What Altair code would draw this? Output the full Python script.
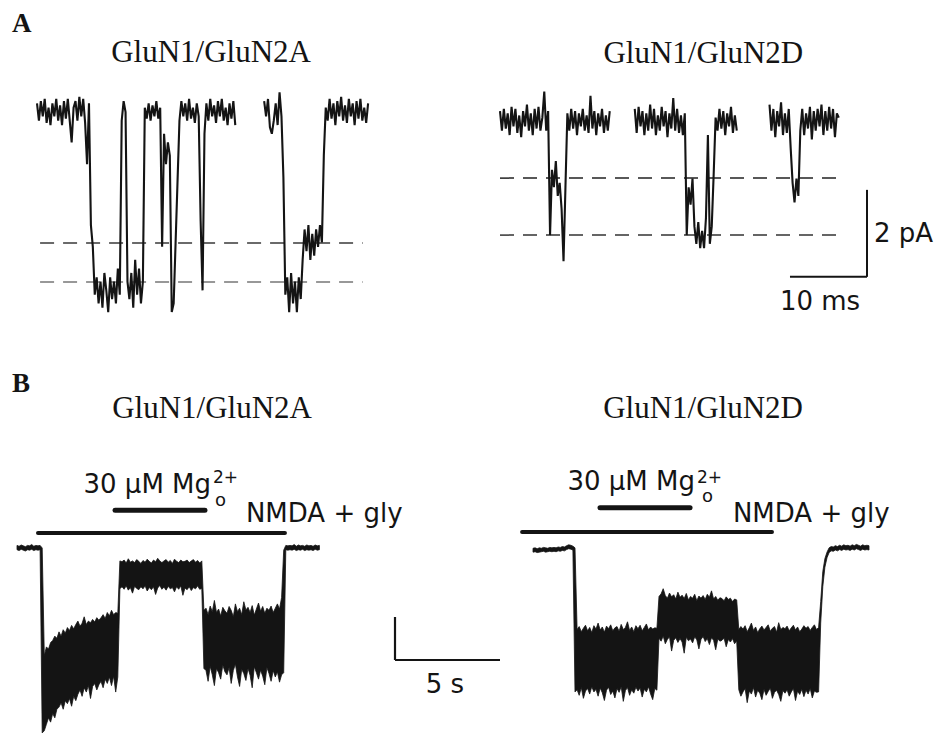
import altair as alt
import pandas as pd

# ------------------------------------------------------------------
# Data
# ------------------------------------------------------------------
# Panel A: single-channel currents (pA), one value every 0.25 ms
A_STEP_MS = 0.25
GLUN2A_SINGLE_PA = [
    0.20, -0.20, 0.25, -0.10,    # 0 ms
    0.30, -0.25, 0.10, -0.30,    # 1
    0.20, -0.10, 0.30, -0.20,    # 2
    0.15, -0.30, 0.25, -0.15,    # 3
    0.30, -0.20, -0.70, 0.10,    # 4
    0.25, -0.20, 0.35, -0.10,    # 5
    0.30, -0.25, -1.20, 0.20,    # 6
    -2.60, -3.10, -4.20, -3.80,  # 7
    -4.40, -3.90, -4.50, -3.70,  # 8
    -4.10, -4.60, -3.80, -4.30,  # 9
    -3.90, -4.40, -3.60, -4.20,  # 10
    -0.20, 0.25, 0.00, -3.90,    # 11
    -4.30, -3.70, -4.50, -3.40,  # 12
    -4.20, -3.60, -4.40, -3.90,  # 13
    0.10, -0.15, 0.20, -0.20,    # 14
    0.15, -0.10, 0.25, -0.15,    # 15
    0.10, -3.10, -0.50, -1.20,   # 16
    -0.70, -1.00, -4.60, -4.40,  # 17
    -3.00, -1.60, -0.20, 0.25,   # 18
    -0.10, 0.20, -0.20, 0.30,    # 19
    -0.15, 0.10, -0.25, 0.20,    # 20
    -0.10, -2.50, -4.10, -0.50,  # 21
    0.20, -0.20, 0.30, -0.10,    # 22
    0.15, -0.25, 0.25, -0.10,    # 23
    0.30, -0.20, 0.10, -0.30,    # 24
    0.20, -0.15, 0.25, -0.30,    # 25
    None, None, None, None,      # 26
    None, None, None, None,      # 27
    None, None, None, None,      # 28
    None, None, 0.25, -0.10,     # 29
    0.30, -0.35, -0.50, -0.20,   # 30
    0.20, -0.30, 0.45, -0.10,    # 31
    -1.50, -4.20, -3.80, -4.60,  # 32
    -3.70, -4.40, -3.90, -4.60,  # 33
    -3.80, -4.30, -3.40, -2.70,  # 34
    -3.20, -2.60, -3.40, -2.80,  # 35
    -3.30, -2.70, -3.10, -2.60,  # 36
    -3.00, -1.00, 0.10, -0.20,   # 37
    0.30, -0.15, 0.20, -0.30,    # 38
    0.25, -0.10, 0.35, -0.20,    # 39
    0.15, -0.25, 0.30, -0.10,    # 40
    0.20, -0.30, 0.25, -0.15,    # 41
    0.30, -0.20, 0.10, -0.25,    # 42
    0.20,                        # 43
]
GLUN2D_SINGLE_PA = [
    0.25, -0.20, 0.30, -0.15,    # 0 ms
    0.20, -0.30, 0.35, -0.10,    # 1
    0.30, -0.25, 0.15, -0.35,    # 2
    0.25, -0.10, 0.40, -0.20,    # 3
    0.20, -0.30, 0.30, -0.15,    # 4
    0.35, -0.20, 0.10, 0.70,     # 5
    -0.20, 0.25, -2.60, -1.10,   # 6
    -1.50, -0.90, -1.70, -1.40,  # 7
    -2.00, -3.20, -1.50, 0.20,   # 8
    -0.20, 0.30, -0.15, 0.25,    # 9
    -0.30, 0.20, -0.10, 0.30,    # 10
    -0.20, 0.15, -0.25, 0.60,    # 11
    -0.15, 0.25, -0.30, 0.20,    # 12
    -0.10, 0.30, -0.25, 0.15,    # 13
    -0.20, 0.25, None, None,     # 14
    None, None, None, None,      # 15
    None, None, None, None,      # 16
    None, None, 0.30, -0.25,     # 17
    0.35, -0.10, 0.25, -0.30,    # 18
    0.20, -0.20, 0.40, -0.15,    # 19
    0.30, -0.30, 0.15, -0.20,    # 20
    0.35, -0.10, 0.25, -0.35,    # 21
    0.20, -0.15, 0.55, -0.20,    # 22
    0.30, -0.25, 0.15, -0.30,    # 23
    0.20, -2.60, -1.50, -1.90,   # 24
    -1.30, -2.40, -2.80, -2.30,  # 25
    -2.90, -2.50, -2.90, -2.20,  # 26
    -0.30, -2.80, -2.40, -1.20,  # 27
    0.10, -0.20, 0.30, -0.15,    # 28
    0.25, -0.30, 0.20, -0.10,    # 29
    0.35, -0.25, 0.15, -0.20,    # 30
    None, None, None, None,      # 31
    None, None, None, None,      # 32
    None, None, None, None,      # 33
    None, None, None, None,      # 34
    0.40, -0.20, 0.30, -0.35,    # 35
    0.25, -0.10, 0.45, -0.30,    # 36
    0.20, -0.25, 0.30, -0.60,    # 37
    -1.40, -1.85, -1.30, -1.70,  # 38
    -0.20, 0.30, -0.30, 0.20,    # 39
    -0.15, 0.35, -0.40, 0.25,    # 40
    -0.20, 0.30, -0.10, 0.40,    # 41
    -0.30, 0.25, -0.20, 0.35,    # 42
    -0.15, 0.30, -0.35, 0.20,    # 43
    0.10,                        # 44
]
GLUN2A_LEVELS_PA = [-3.01, -3.91]
GLUN2A_LEVEL_SPAN_MS = [0.4, 42.3]
GLUN2D_LEVELS_PA = [-1.29, -2.60]
GLUN2D_LEVEL_SPAN_MS = [0.0, 43.9]
A_BAR_MS = [37.66, 47.66]        # 10 ms
A_BAR_PA = [-3.56, -1.56]        # 2 pA

# Panel B: whole-cell currents, upper / lower envelope every 0.1 s
B_STEP_S = 0.1
GLUN2A_WC_HI = [
    0.06, 0.04, 0.07, 0.05, 0.03, 0.06, 0.05, 0.08, 0.04, 0.06,
    0.05, 0.06, 0.00, -2.50, -2.30, -2.35, -2.20, -2.15, -2.05, -2.10,
    -1.95, -2.05, -1.90, -1.98, -1.85, -1.92, -1.80, -1.88, -1.78, -1.70,
    -1.82, -1.75, -1.60, -1.78, -1.70, -1.74, -1.66, -1.72, -1.62, -1.68,
    -1.62, -1.55, -1.64, -1.50, -1.58, -1.45, -1.55, -1.50, -1.52, -0.30,
    -0.32, -0.28, -0.35, -0.25, -0.33, -0.30, -0.34, -0.27, -0.31, -0.36,
    -0.29, -0.33, -0.26, -0.31, -0.35, -0.28, -0.32, -0.24, -0.30, -0.34,
    -0.30, -0.27, -0.33, -0.29, -0.36, -0.26, -0.31, -0.34, -0.28, -0.32,
    -0.31, -0.28, -0.34, -0.30, -0.27, -0.33, -0.29, -0.35, -0.30, -1.45,
    -1.40, -1.55, -1.35, -1.48, -1.22, -1.50, -1.42, -1.58, -1.38, -1.46,
    -1.52, -1.36, -1.45, -1.60, -1.30, -1.48, -1.40, -1.55, -1.25, -1.44,
    -1.38, -1.50, -1.34, -1.56, -1.42, -1.28, -1.47, -1.36, -1.52, -1.40,
    -1.45, -1.35, -1.50, -1.40, -1.30, -1.42, -1.15, -0.05, 0.06, 0.05,
    0.06, 0.05, 0.08, 0.04, 0.07, 0.05, 0.06, 0.04, 0.07, 0.05,
    0.06, 0.04, 0.07, 0.05, 0.06,
]
GLUN2A_WC_LO = [
    -0.04, -0.06, -0.03, -0.05, -0.07, -0.04, -0.05, -0.03, -0.06, -0.04,
    -0.05, -0.04, -4.30, -4.25, -4.10, -3.95, -4.05, -3.85, -3.95, -3.75,
    -3.70, -3.60, -3.75, -3.55, -3.62, -3.50, -3.68, -3.45, -3.55, -3.40,
    -3.30, -3.45, -3.25, -3.35, -3.20, -3.50, -3.22, -3.15, -3.30, -3.18,
    -3.10, -3.25, -3.05, -3.15, -3.00, -3.20, -2.98, -3.35, -3.00, -0.95,
    -0.90, -0.96, -0.88, -0.98, -0.92, -1.05, -0.89, -0.94, -0.97, -0.90,
    -0.95, -0.88, -1.00, -0.92, -0.97, -0.90, -1.08, -0.93, -0.87, -0.96,
    -0.91, -0.98, -0.89, -0.95, -0.92, -1.02, -0.90, -0.96, -0.88, -1.10,
    -0.93, -0.97, -0.90, -0.99, -0.92, -0.95, -0.88, -0.96, -0.94, -2.80,
    -2.85, -3.10, -2.75, -2.95, -3.20, -2.80, -2.90, -3.05, -2.72, -2.88,
    -2.95, -2.78, -3.15, -2.85, -2.70, -3.00, -3.22, -2.82, -2.92, -3.08,
    -2.80, -2.96, -3.25, -2.76, -2.90, -3.05, -2.84, -2.98, -3.18, -2.78,
    -2.92, -3.10, -2.85, -3.00, -2.88, -3.12, -2.95, -2.90, -0.04, -0.05,
    -0.04, -0.05, -0.03, -0.06, -0.04, -0.05, -0.03, -0.06, -0.04, -0.05,
    -0.04, -0.06, -0.03, -0.05, -0.04,
]
GLUN2D_WC_HI = [
    0.04, 0.05, 0.03, 0.05, 0.04, 0.06, 0.05, 0.04, 0.06, 0.05,
    0.06, 0.05, 0.07, 0.06, 0.08, 0.07, 0.10, 0.12, 0.11, 0.09,
    0.05, -1.85, -1.78, -1.90, -1.82, -1.75, -1.88, -1.80, -1.92, -1.76,
    -1.84, -1.70, -1.86, -1.79, -1.91, -1.77, -1.83, -1.74, -1.88, -1.81,
    -1.78, -1.89, -1.73, -1.85, -1.80, -1.67, -1.87, -1.79, -1.90, -1.76,
    -1.83, -1.75, -1.88, -1.80, -1.72, -1.86, -1.79, -1.84, -1.81, -1.82,
    -1.08, -1.02, -0.90, -1.06, -1.12, -1.00, -1.09, -1.04, -1.14, -0.98,
    -1.10, -1.05, -1.13, -1.01, -1.16, -1.08, -1.12, -1.03, -1.18, -1.07,
    -1.12, -1.06, -1.15, -1.03, -1.10, -0.95, -1.14, -1.08, -1.17, -1.11,
    -1.13, -1.18, -1.09, -1.15, -1.12, -1.20, -1.14, -1.16, -1.85, -1.78,
    -1.84, -1.76, -1.90, -1.81, -1.70, -1.87, -1.79, -1.92, -1.83, -1.77,
    -1.86, -1.80, -1.74, -1.89, -1.82, -1.78, -1.91, -1.69, -1.85, -1.80,
    -1.83, -1.77, -1.88, -1.81, -1.75, -1.86, -1.79, -1.90, -1.84, -1.76,
    -1.82, -1.78, -1.87, -1.80, -1.74, -1.85, -1.80, -1.20, -0.50, -0.20,
    -0.05, 0.05, 0.08, 0.07, 0.10, 0.08, 0.11, 0.09, 0.12, 0.10,
    0.11, 0.09, 0.12, 0.10, 0.13, 0.11, 0.09, 0.12, 0.10, 0.11,
    0.10,
]
GLUN2D_WC_LO = [
    -0.05, -0.04, -0.06, -0.05, -0.04, -0.03, -0.05, -0.04, -0.03, -0.04,
    -0.03, -0.04, -0.02, -0.03, -0.01, -0.02, 0.01, 0.03, 0.02, 0.00,
    -3.30, -3.25, -3.38, -3.20, -3.45, -3.28, -3.22, -3.35, -3.18, -3.30,
    -3.24, -3.40, -3.21, -3.32, -3.50, -3.26, -3.19, -3.36, -3.28, -3.44,
    -3.22, -3.31, -3.18, -3.52, -3.27, -3.20, -3.38, -3.25, -3.33, -3.19,
    -3.28, -3.21, -3.42, -3.24, -3.30, -3.18, -3.35, -3.48, -3.22, -3.26,
    -2.05, -2.12, -2.00, -2.18, -2.08, -2.02, -2.35, -2.10, -2.04, -2.15,
    -2.06, -2.14, -2.40, -2.03, -2.11, -2.07, -2.16, -2.02, -2.09, -2.30,
    -2.08, -2.01, -2.13, -2.06, -2.20, -2.04, -2.10, -2.32, -2.07, -2.12,
    -2.10, -2.05, -2.25, -2.08, -2.14, -2.06, -2.18, -2.11, -3.25, -3.40,
    -3.30, -3.22, -3.55, -3.28, -3.35, -3.20, -3.42, -3.26, -3.33, -3.48,
    -3.24, -3.38, -3.29, -3.21, -3.45, -3.31, -3.26, -3.36, -3.52, -3.27,
    -3.33, -3.25, -3.40, -3.30, -3.22, -3.50, -3.28, -3.36, -3.24, -3.41,
    -3.26, -3.35, -3.22, -3.44, -3.28, -3.31, -3.30, -1.70, -0.85, -0.40,
    -0.18, -0.06, -0.02, -0.03, 0.00, -0.02, 0.01, -0.01, 0.02, 0.00,
    0.01, -0.01, 0.02, 0.00, 0.03, 0.01, -0.01, 0.02, 0.00, 0.01,
    0.00,
]
# application bars (s) and scale bar (5 s, 1 unit)
GLUN2A_NMDA_S = [1.0, 12.76]
GLUN2A_MG_S = [4.67, 8.95]
GLUN2D_NMDA_S = [-0.52, 11.38]
GLUN2D_MG_S = [3.19, 7.48]
B_BAR_S = [18.0, 23.0]
B_BAR_UNITS = [-2.605, -1.605]

# ------------------------------------------------------------------
# Layout (pixels) -> scale domains
# ------------------------------------------------------------------
W_L, W_R, H_A, H_B = 464, 465, 352, 374
A_PX_MS, A_PX_PA = 7.7, 43.5
B_PX_S, B_PX_U = 21.0, 43.0


def domains(width, height, x0_px, y0_px, px_x, px_y):
    xmin = -x0_px / px_x
    ymax = y0_px / px_y
    return [xmin, xmin + width / px_x], [ymax - height / px_y, ymax]


INK = "#141414"
SERIF = "Liberation Serif"
SANS = "DejaVu Sans"
SANS_SIZE = 26


def enc(xd, yd):
    X = lambda f: alt.X(f"{f}:Q", scale=alt.Scale(domain=xd, nice=False, zero=False), axis=None)
    Y = lambda f: alt.Y(f"{f}:Q", scale=alt.Scale(domain=yd, nice=False, zero=False), axis=None)
    return X, Y


def line_trace(vals, step):
    rows, seg, gap = [], 0, False
    for i, v in enumerate(vals):
        if v is None:
            gap = True
            continue
        if gap:
            seg += 1
            gap = False
        rows.append({"t": i * step, "v": v, "seg": seg})
    return pd.DataFrame(rows)


def text(X, Y, label, t, v, **kw):
    df = pd.DataFrame({"t": [t], "v": [v], "label": [label]})
    return alt.Chart(df).mark_text(color=INK, **kw).encode(x=X("t"), y=Y("v"), text="label:N")


def hrule(X, Y, t1, t2, v, **kw):
    df = pd.DataFrame({"t": [t1], "t2": [t2], "v": [v]})
    return alt.Chart(df).mark_rule(**kw).encode(x=X("t"), x2="t2:Q", y=Y("v"))


def vrule(X, Y, t, v1, v2, **kw):
    df = pd.DataFrame({"t": [t], "v": [v1], "v2": [v2]})
    return alt.Chart(df).mark_rule(**kw).encode(x=X("t"), y=Y("v"), y2="v2:Q")


def panel_a(vals, levels, span, level_colors, x0, y0, width, title, title_t, title_v, extra):
    xd, yd = domains(width, H_A, x0, y0, A_PX_MS, A_PX_PA)
    X, Y = enc(xd, yd)
    layers = []
    for lv, col in zip(levels, level_colors):
        layers.append(hrule(X, Y, span[0], span[1], lv, color=col, strokeWidth=1.5, strokeDash=[14, 9]))
    df = line_trace(vals, A_STEP_MS)
    layers.append(alt.Chart(df).mark_line(color=INK, strokeWidth=2.1, strokeJoin="miter",
                                          strokeMiterLimit=3).encode(
        x=X("t"), y=Y("v"), detail="seg:N"))
    layers.append(text(X, Y, title, title_t, title_v, font=SERIF, fontSize=31,
                       align="center", baseline="alphabetic"))
    layers += extra(X, Y)
    return alt.layer(*layers).properties(width=width, height=H_A)


def a_left_extra(X, Y):
    return [text(X, Y, "A", -3.25, 1.84, font=SERIF, fontSize=27, fontWeight="bold",
                 align="left", baseline="alphabetic")]


def a_right_extra(X, Y):
    return [
        vrule(X, Y, A_BAR_MS[1], A_BAR_PA[0], A_BAR_PA[1], color=INK, strokeWidth=2),
        hrule(X, Y, A_BAR_MS[0], A_BAR_MS[1], A_BAR_PA[0], color=INK, strokeWidth=2),
        text(X, Y, "2 pA", A_BAR_MS[1] + 0.9, (A_BAR_PA[0] + A_BAR_PA[1]) / 2 - 0.02,
             font=SANS, fontSize=SANS_SIZE, align="left", baseline="middle"),
        text(X, Y, "10 ms", (A_BAR_MS[0] + A_BAR_MS[1]) / 2 - 1.1, A_BAR_PA[0] - 0.58,
             font=SANS, fontSize=SANS_SIZE, align="center", baseline="middle"),
    ]


def panel_b(hi, lo, nmda, mg, x0, y0, width, title, title_t, lab, extra):
    xd, yd = domains(width, H_B, x0, y0, B_PX_S, B_PX_U)
    X, Y = enc(xd, yd)
    df = pd.DataFrame({"t": [i * B_STEP_S for i in range(len(hi))], "hi": hi, "lo": lo})
    layers = [
        alt.Chart(df).mark_area(fill=INK, stroke=INK, strokeWidth=0.8).encode(
            x=X("t"), y=Y("hi"), y2="lo:Q"),
        hrule(X, Y, nmda[0], nmda[1], lab["nmda_v"], color=INK, strokeWidth=4, strokeCap="round"),
        hrule(X, Y, mg[0], mg[1], lab["mg_v"], color=INK, strokeWidth=5, strokeCap="round"),
        text(X, Y, title, title_t, lab["title_v"], font=SERIF, fontSize=31,
             align="center", baseline="alphabetic"),
        text(X, Y, "30 \u00b5M Mg", lab["mg_t"], lab["mg_tv"], font=SANS, fontSize=SANS_SIZE,
             align="right", baseline="alphabetic"),
        text(X, Y, "2+", lab["sup_t"], lab["sup_v"], font=SANS, fontSize=17,
             align="left", baseline="alphabetic"),
        text(X, Y, "o", lab["sub_t"], lab["sub_v"], font=SANS, fontSize=18,
             align="left", baseline="alphabetic"),
        text(X, Y, "NMDA + gly", lab["nm_t"], lab["nm_v"], font=SANS, fontSize=SANS_SIZE,
             align="left", baseline="alphabetic"),
    ]
    layers += extra(X, Y)
    return alt.layer(*layers).properties(width=width, height=H_B)


def b_left_extra(X, Y):
    return [
        text(X, Y, "B", -0.24, 3.63, font=SERIF, fontSize=27, fontWeight="bold",
             align="left", baseline="alphabetic"),
        vrule(X, Y, B_BAR_S[0], B_BAR_UNITS[0], B_BAR_UNITS[1], color=INK, strokeWidth=2.2),
        hrule(X, Y, B_BAR_S[0], B_BAR_S[1], B_BAR_UNITS[0], color=INK, strokeWidth=2.2),
        text(X, Y, "5 s", (B_BAR_S[0] + B_BAR_S[1]) / 2 - 0.12, B_BAR_UNITS[0] - 0.58,
             font=SANS, fontSize=SANS_SIZE, align="center", baseline="middle"),
    ]


a_left = panel_a(GLUN2A_SINGLE_PA, GLUN2A_LEVELS_PA, GLUN2A_LEVEL_SPAN_MS, ["#3a3a3a", "#777777"],
                 29, 104, W_L, "GluN1/GluN2A", 22.6, 1.15, a_left_extra)
a_right = panel_a(GLUN2D_SINGLE_PA, GLUN2D_LEVELS_PA, GLUN2D_LEVEL_SPAN_MS, ["#222222", "#333333"],
                  28, 114, W_R, "GluN1/GluN2D", 26.4, 1.36, a_right_extra)

b_left = panel_b(GLUN2A_WC_HI, GLUN2A_WC_LO, GLUN2A_NMDA_S, GLUN2A_MG_S, 9, 188, W_L,
                 "GluN1/GluN2A", 9.29,
                 dict(nmda_v=0.35, mg_v=0.88, title_v=3.02, mg_t=9.24, mg_tv=1.28,
                      sup_t=9.33, sup_v=1.52, sub_t=9.43, sub_v=0.98, nm_t=10.9, nm_v=0.605),
                 b_left_extra)
b_right = panel_b(GLUN2D_WC_HI, GLUN2D_WC_LO, GLUN2D_NMDA_S, GLUN2D_MG_S, 61, 190, W_R,
                  "GluN1/GluN2D", 8.10,
                  dict(nmda_v=0.42, mg_v=0.98, title_v=3.07, mg_t=7.71, mg_tv=1.395,
                       sup_t=7.81, sup_v=1.565, sub_t=8.05, sub_v=1.12, nm_t=9.52, nm_v=0.65),
                  lambda X, Y: [])

chart = (
    alt.concat(a_left, a_right, b_left, b_right, columns=2, spacing=0, bounds="flush")
    .properties(padding=0, background="white")
    .configure_view(stroke=None)
)

chart.save("out.html", embed_options={"renderer": "svg", "actions": False})
